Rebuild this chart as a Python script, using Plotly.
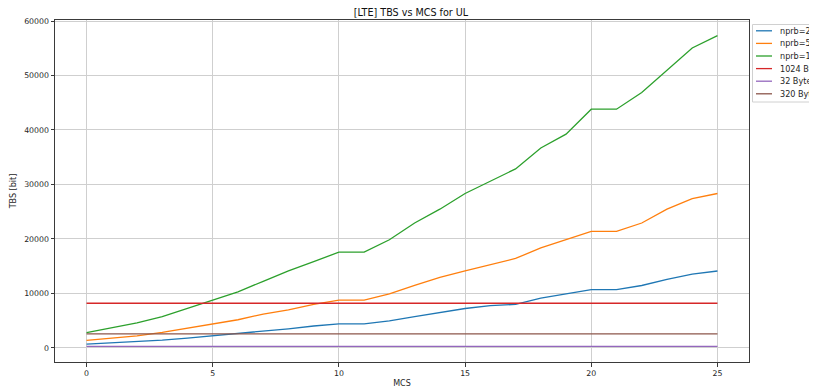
import plotly.graph_objects as go

# MCS index on the x axis
mcs = list(range(0, 26))

# TBS values [bit] (UL, MCS -> ITBS mapping)
tbs_nprb25 = [680, 904, 1096, 1416, 1800, 2216, 2600, 3112, 3496, 4008, 4392,
              4392, 4968, 5736, 6456, 7224, 7736, 7992, 9144, 9912, 10680,
              10680, 11448, 12576, 13536, 14112]
tbs_nprb50 = [1384, 1800, 2216, 2856, 3624, 4392, 5160, 6200, 6968, 7992, 8760,
              8760, 9912, 11448, 12960, 14112, 15264, 16416, 18336, 19848, 21384,
              21384, 22920, 25456, 27376, 28336]
tbs_nprb100 = [2792, 3624, 4584, 5736, 7224, 8760, 10296, 12216, 14112, 15840, 17568,
               17568, 19848, 22920, 25456, 28336, 30576, 32856, 36696, 39232, 43816,
               43816, 46888, 51024, 55056, 57336]

# reference payload sizes in bits
ref_names = ["1024 Byte", "32 Byte", "320 Byte"]
ref_bits = [8192, 256, 2560]

colors = ['#1f77b4', '#ff7f0e', '#2ca02c', '#d62728', '#9467bd', '#8c564b']
txt = '#262626'

# page body has an 8px margin, so the figure is shifted by 8px
OFF = 8
PL, PR, PT, PB = 55, 749, 20, 362   # plot area in page pixels


def px_x(px):
    return (px - PL) / (PR - PL)


def px_y(py):
    return 1 - (py - PT) / (PB - PT)


fig = go.Figure()

names = ["nprb=25", "nprb=50", "nprb=100"] + ref_names
series = [tbs_nprb25, tbs_nprb50, tbs_nprb100] + [[b] * len(mcs) for b in ref_bits]
for i, vals in enumerate(series):
    fig.add_trace(go.Scatter(x=mcs, y=vals, name=names[i], mode='lines',
                             line=dict(color=colors[i], width=1.3), showlegend=False))

# legend box (matplotlib style, cut off by the right edge)
fig.add_shape(type='rect', xref='paper', yref='paper',
              x0=px_x(752.5), x1=px_x(840), y0=px_y(102), y1=px_y(24.5),
              line=dict(color='#d0d0d0', width=1), fillcolor='white', layer='above')
for i, name in enumerate(names):
    yy = px_y(30.8 + 12.6 * i)
    fig.add_shape(type='line', xref='paper', yref='paper',
                  x0=px_x(756), x1=px_x(772), y0=yy, y1=yy,
                  line=dict(color=colors[i], width=1.3), layer='above')
    fig.add_annotation(text=name, xref='paper', yref='paper', x=px_x(777.5), y=yy,
                       xanchor='left', yanchor='middle', showarrow=False,
                       font=dict(size=8.1, color=txt))

axis_style = dict(showline=True, linecolor='#3a3a3a', linewidth=1, mirror=True,
                  ticks='outside', ticklen=3.5, tickcolor='#3a3a3a',
                  showgrid=True, gridcolor='#cfcfcf', gridwidth=1, zeroline=False,
                  tickfont=dict(size=7.8, color=txt))

fig.update_xaxes(range=[-1.25, 26.25], tickvals=[0, 5, 10, 15, 20, 25],
                 title=dict(text="MCS", font=dict(size=8, color=txt), standoff=3),
                 **axis_style)
fig.update_yaxes(range=[-2598, 60190], tickvals=[0, 10000, 20000, 30000, 40000, 50000, 60000],
                 tickformat='d',
                 title=dict(text="TBS [bit]", font=dict(size=8, color=txt), standoff=6),
                 **axis_style)

W, H = 817 - OFF, 390 - OFF
fig.update_layout(
    width=W, height=H,
    title=dict(text="[LTE] TBS vs MCS for UL", x=px_x(411), xref='paper', xanchor='center',
               y=1 - (12.3 - OFF) / H, yanchor='middle',
               font=dict(size=9.6, color='#111111')),
    font=dict(family="DejaVu Sans"),
    plot_bgcolor='white', paper_bgcolor='white',
    margin=dict(l=PL - OFF, r=817 - PR, t=PT - OFF, b=390 - PB, autoexpand=False),
    showlegend=False,
)

fig.write_html("out.html")
